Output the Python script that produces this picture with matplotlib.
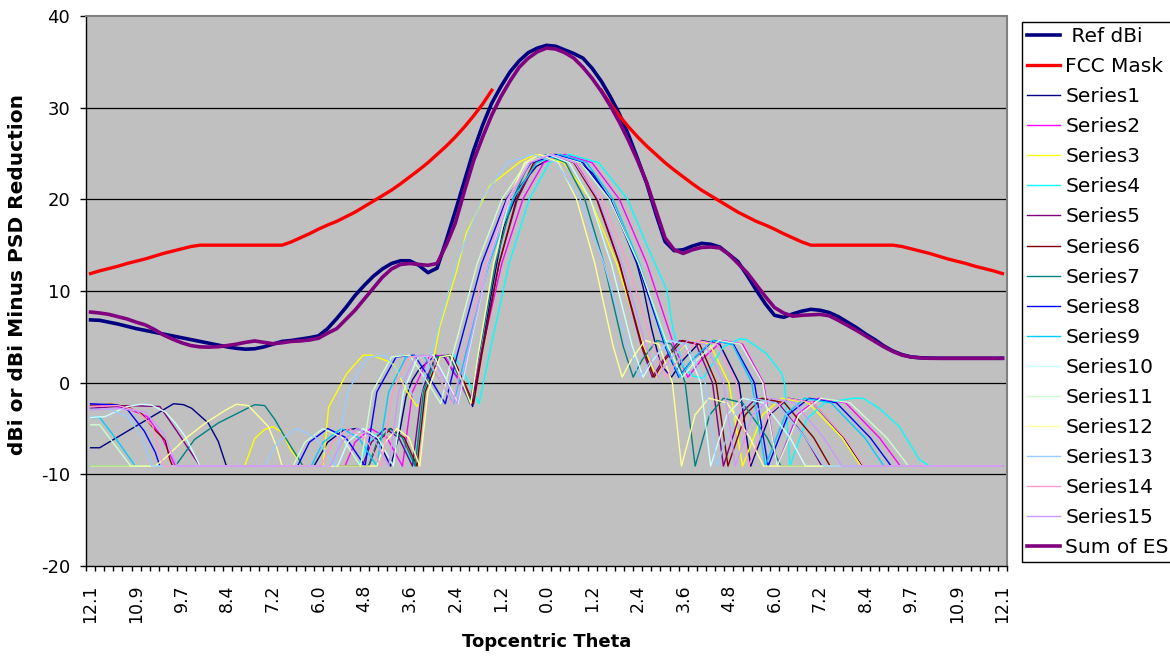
import numpy as np
import matplotlib.pyplot as plt

plt.rcParams['axes.unicode_minus'] = False
nan = float('nan')

# category labels (every 5th category is labelled)
theta_labels = ['12.1', '10.9', '9.7', '8.4', '7.2', '6.0', '4.8', '3.6', '2.4', '1.2', '0.0',
                '1.2', '2.4', '3.6', '4.8', '6.0', '7.2', '8.4', '9.7', '10.9', '12.1']
n_cat = 101

ref_dbi = [6.85, 6.8, 6.6, 6.4, 6.15, 5.9, 5.7, 5.5, 5.3, 5.1,
           4.9, 4.7, 4.5, 4.3, 4.1, 3.9, 3.75, 3.65, 3.7, 3.9,
           4.2, 4.5, 4.6, 4.75, 4.9, 5.1, 5.9, 7.0, 8.2, 9.5,
           10.6, 11.6, 12.4, 13.0, 13.3, 13.3, 12.8, 12.0, 12.5, 15.5,
           18.7, 22.0, 25.3, 28.1, 30.5, 32.3, 33.9, 35.1, 36.0, 36.5,
           36.8, 36.7, 36.3, 35.9, 35.4, 34.3, 32.9, 31.2, 29.3, 27.0,
           24.4, 21.7, 18.4, 15.4, 14.4, 14.5, 14.9, 15.2, 15.1, 14.8,
           14.0, 13.2, 11.7, 10.1, 8.6, 7.35, 7.13, 7.5, 7.8, 8.0,
           7.9, 7.65, 7.2, 6.6, 6.0, 5.3, 4.7, 4.0, 3.45, 3.05,
           2.8, 2.72, 2.68, 2.66, 2.66, 2.66, 2.66, 2.66, 2.66, 2.66, 2.66]

fcc_mask = [11.9, 12.2, 12.45, 12.7, 13.0, 13.25, 13.5, 13.8, 14.1, 14.35,
            14.6, 14.85, 15.0, 15.0, 15.0, 15.0, 15.0, 15.0, 15.0, 15.0,
            15.0, 15.0, 15.35, 15.8, 16.25, 16.75, 17.2, 17.6, 18.1, 18.6,
            19.2, 19.8, 20.4, 21.0, 21.7, 22.45, 23.2, 24.0, 24.9, 25.8,
            26.8, 27.9, 29.1, 30.4, 31.9, nan, nan, nan, nan, nan,
            nan, nan, nan, nan, nan, nan, 31.9, 30.4, 29.1, 27.9,
            26.8, 25.8, 24.9, 24.0, 23.2, 22.45, 21.7, 21.0, 20.4, 19.8,
            19.2, 18.6, 18.1, 17.6, 17.2, 16.75, 16.25, 15.8, 15.35, 15.0,
            15.0, 15.0, 15.0, 15.0, 15.0, 15.0, 15.0, 15.0, 15.0, 14.85,
            14.6, 14.35, 14.1, 13.8, 13.5, 13.25, 13.0, 12.7, 12.45, 12.2, 11.9]

sum_es = [7.7, 7.6, 7.45, 7.2, 6.95, 6.6, 6.3, 5.8, 5.2, 4.75,
          4.35, 4.05, 3.9, 3.88, 3.92, 4.05, 4.2, 4.4, 4.55, 4.4,
          4.25, 4.35, 4.5, 4.55, 4.65, 4.85, 5.4, 5.9, 6.9, 7.9,
          9.1, 10.3, 11.5, 12.4, 12.9, 13.0, 12.9, 12.8, 13.0, 15.0,
          17.4, 20.9, 24.2, 26.8, 29.2, 31.2, 32.9, 34.4, 35.4, 36.1,
          36.5, 36.4, 36.0, 35.4, 34.4, 33.2, 31.8, 30.2, 28.4, 26.4,
          24.2, 21.8, 18.8, 15.8, 14.5, 14.1, 14.5, 14.75, 14.8, 14.7,
          14.0, 13.0, 12.0, 10.7, 9.4, 8.2, 7.6, 7.25, 7.35, 7.4,
          7.45, 7.3, 6.8, 6.25, 5.7, 5.1, 4.5, 3.9, 3.4, 3.0,
          2.8, 2.7, 2.66, 2.66, 2.66, 2.66, 2.66, 2.66, 2.66, 2.66, 2.66]

# earth station series: (category position, value) vertices
series1 = [(0, -7.1), (1, -7.1), (9.1, -2.3), (10.2, -2.4), (11.1, -2.8), (12.9, -4.4), (14, -6.4), (14.9, -9.1),
           (24.5, -9.1), (26, -6.5), (27.7, -5.2), (29.2, -5.0), (31.5, -6.2), (32.9, -9.1), (33.8, -5.9),
           (34.6, -1.5), (35.3, 0.3), (36, 1.4), (37.8, 3.0), (38.8, 2.8), (39.9, 1.0), (41, -0.4), (41.9, -2.6),
           (43, 4.0), (44, 10.0), (45.3, 17.0), (47.1, 21.4), (48.9, 23.6), (51.1, 24.8), (53.3, 24.3),
           (55.1, 22.8), (57, 19.9), (58.4, 16.7), (59.9, 13.0), (60.6, 10.4), (61.5, 6.0), (62.5, 2.0),
           (63.7, 0.6), (65, 2.5), (67, 4.6), (69, 4.2), (71.1, 0.0), (72.4, -9.1), (74.5, -3.5), (76.5, -1.7),
           (79.2, -2.2), (82.6, -6.0), (84.6, -9.1), (100, -9.1)]
series2 = [(0, -2.6), (2, -2.5), (4, -2.8), (6.2, -3.7), (7.8, -5.9), (9.3, -9.1), (27.9, -9.1), (29, -6.5),
           (30.7, -5.0), (32.5, -6.0), (34.2, -9.1), (35.3, -1.0), (37.1, 2.8), (38.8, 3.0), (40.5, 0.0),
           (41.7, -2.3), (42.8, 3.0), (45.1, 13.0), (47.4, 20.0), (49.7, 24.0), (52, 24.9), (55, 24.0),
           (58, 20.0), (61, 13.0), (64, 4.0), (65.5, 0.6), (67, 2.5), (69.3, 4.6), (71.5, 4.2), (73.8, 0.0),
           (75.3, -9.1), (77.5, -3.5), (79.8, -1.7), (82.8, -2.2), (86.5, -6.0), (88.8, -9.1), (100, -9.1)]
series3 = [(0, -9.1), (16.9, -9.1), (18, -6.1), (19.1, -5.1), (20, -4.8), (21, -5.4), (22, -7.4), (23.3, -9.1),
           (25.5, -9.1), (26.1, -2.7), (28.1, 1.0), (29.9, 3.0), (30.8, 3.0), (33.2, 2.1), (34.6, -0.8),
           (35.8, -2.6), (37.3, 1.0), (38.3, 6.1), (40.1, 12.0), (41.2, 16.3), (43.8, 21.5), (47.1, 24.1),
           (48.8, 24.9), (51.9, 24.0), (54.8, 20.0), (57.7, 13.0), (60.6, 4.0), (62.1, 0.6), (63.5, 2.5),
           (65.7, 4.6), (67.9, 4.2), (70, 0.0), (71.5, -9.1), (73.7, -3.5), (75.8, -1.7), (78.7, -2.2),
           (82.4, -6.0), (84.5, -9.1), (100, -9.1)]
series4 = [(0, -9.1), (29.4, -9.1), (30.5, -6.5), (32.2, -5.0), (33.8, -6.0), (35.5, -9.1), (36.6, -1.0),
           (38.2, 2.8), (39.9, 3.0), (41.5, 0.0), (42.6, -2.3), (43.7, 3.0), (45.9, 13.0), (48.1, 20.0),
           (50.3, 24.0), (52.5, 24.9), (55.7, 24.0), (58.9, 20.0), (61, 15.0), (63.2, 10.1), (63.9, 5.7),
           (65, 1.75), (66.1, 0.7), (67.2, 0.5), (69.4, 3.9), (71.2, 4.8), (71.9, 4.7), (74.1, 3.2), (75.8, 1.0),
           (76.1, -0.1), (76.7, -9.1), (78.5, -4.0), (80.5, -2.2), (83.6, -1.7), (84.7, -1.7), (86.5, -2.8),
           (88.7, -4.8), (90.9, -8.4), (92, -9.1), (100, -9.1)]
series5 = [(0, -2.8), (4, -2.5), (7.6, -2.6), (9.4, -5.2), (12, -9.1), (29.8, -9.1), (30.8, -6.5), (32.3, -5.0),
           (33.8, -6.0), (35.3, -9.1), (36.3, -1.0), (37.8, 2.8), (39.3, 3.0), (40.8, 0.0), (41.8, -2.3),
           (42.8, 3.0), (44.8, 13.0), (46.8, 20.0), (48.8, 24.0), (50.8, 24.9), (53.2, 24.0), (55.6, 20.0),
           (58, 13.0), (60.4, 4.0), (61.6, 0.6), (62.8, 2.5), (64.6, 4.6), (66.4, 4.2), (68.2, 0.0), (69.4, -9.1),
           (71.2, -3.5), (73, -1.7), (75.4, -2.2), (78.4, -6.0), (80.2, -9.1), (100, -9.1)]
series6 = [(0, -2.45), (2.3, -2.35), (4.1, -2.65), (5.6, -3.4), (7.1, -5.2), (8.2, -6.3), (8.7, -8.4), (9, -9.1),
           (30.5, -9.1), (31.5, -6.5), (32.9, -5.0), (34.4, -6.0), (35.8, -9.1), (36.7, -1.0), (38.2, 2.8),
           (39.6, 3.0), (41, 0.0), (42, -2.3), (42.9, 3.0), (44.8, 13.0), (46.7, 20.0), (48.6, 24.0), (50.5, 24.9),
           (53, 24.0), (55.5, 20.0), (58, 13.0), (60.5, 4.0), (61.8, 0.6), (63, 2.5), (64.9, 4.6), (66.8, 4.2),
           (68.6, 0.0), (69.9, -9.1), (71.8, -3.5), (73.6, -1.7), (76.1, -2.2), (79.3, -6.0), (81.1, -9.1),
           (100, -9.1)]
series7 = [(0, -9.1), (9.3, -9.1), (11.4, -6.2), (14, -4.4), (16.2, -3.3), (18, -2.4), (19.1, -2.5), (20.2, -4.0),
           (21.3, -5.9), (22.8, -8.3), (23.3, -9.1), (30.5, -9.1), (31.4, -6.5), (32.8, -5.0), (34.2, -6.0),
           (35.6, -9.1), (36.5, -1.0), (37.9, 2.8), (39.3, 3.0), (40.7, 0.0), (41.6, -2.3), (42.6, 3.0),
           (44.4, 13.0), (46.3, 20.0), (48.1, 24.0), (50, 24.9), (52.1, 24.0), (54.2, 20.0), (56.3, 13.0),
           (58.4, 4.0), (59.5, 0.6), (60.5, 2.5), (62.1, 4.6), (63.7, 4.2), (65.2, 0.0), (66.3, -9.1),
           (67.9, -3.5), (69.4, -1.7), (71.5, -2.2), (74.2, -6.0), (75.7, -9.1), (100, -9.1)]
series8 = [(0, -2.3), (3, -2.45), (4.1, -3.0), (5.9, -5.3), (7.1, -7.6), (7.6, -9.1), (22.7, -9.1), (24, -6.5),
           (26, -5.0), (28, -6.0), (30.1, -9.1), (31.4, -1.0), (33.5, 2.8), (35.5, 3.0), (37.5, 0.0), (38.9, -2.3),
           (40.2, 3.0), (42.9, 13.0), (45.6, 20.0), (48.3, 24.0), (51, 24.9), (54, 24.0), (57, 20.0), (60, 13.0),
           (63, 4.0), (64.5, 0.6), (66, 2.5), (68.3, 4.6), (70.5, 4.2), (72.8, 0.0), (74.3, -9.1), (76.5, -3.5),
           (78.8, -1.7), (81.8, -2.2), (85.5, -6.0), (87.8, -9.1), (100, -9.1)]
series9 = [(0, -3.8), (1, -3.8), (2.7, -6.0), (4.9, -9.1), (24.2, -9.1), (25.5, -6.5), (27.5, -5.0), (29.4, -6.0),
           (31.4, -9.1), (32.7, -1.0), (34.6, 2.8), (36.5, 3.0), (38.5, 0.0), (39.8, -2.3), (41.1, 3.0),
           (43.7, 13.0), (46.3, 20.0), (48.9, 24.0), (51.5, 24.9), (54.4, 24.0), (57.3, 20.0), (60.2, 13.0),
           (63.1, 4.0), (64.6, 0.6), (66, 2.5), (68.2, 4.6), (70.4, 4.2), (72.5, 0.0), (74, -9.1), (76.2, -3.5),
           (78.3, -1.7), (81.2, -2.2), (84.9, -6.0), (87, -9.1), (100, -9.1)]
series10 = [(0, -3.8), (1.6, -3.7), (4, -2.6), (5.6, -2.35), (6.7, -2.45), (8.2, -3.2), (9.3, -4.4), (10.4, -5.9),
            (12, -9.1), (27.1, -9.1), (28.2, -6.5), (29.9, -5.0), (31.5, -6.0), (33.2, -9.1), (34.3, -1.0),
            (35.9, 2.8), (37.6, 3.0), (39.2, 0.0), (40.3, -2.3), (41.4, 3.0), (43.6, 13.0), (45.8, 20.0),
            (48, 24.0), (50.2, 24.9), (52.5, 24.0), (54.8, 20.0), (57.1, 13.0), (59.4, 4.0), (60.6, 0.6),
            (61.7, 2.5), (63.4, 4.6), (65.2, 4.2), (66.9, 0.0), (68, -9.1), (69.8, -3.5), (71.5, -1.7),
            (73.8, -2.2), (76.7, -6.0), (78.4, -9.1), (100, -9.1)]
series11 = [(0, -4.6), (1, -4.6), (4.4, -9.1), (22.2, -9.1), (23.5, -6.5), (25.5, -5.0), (27.6, -6.0), (29.6, -9.1),
            (30.9, -1.0), (33, 2.8), (35, 3.0), (37, 0.0), (38.4, -2.3), (39.7, 3.0), (42.4, 13.0), (45.1, 20.0),
            (47.8, 24.0), (50.5, 24.9), (53.7, 24.0), (56.9, 20.0), (60.1, 13.0), (63.3, 4.0), (64.9, 0.6),
            (66.5, 2.5), (68.9, 4.6), (71.3, 4.2), (73.7, 0.0), (75.3, -9.1), (77.7, -3.5), (80.1, -1.7),
            (83.3, -2.2), (87.3, -6.0), (89.7, -9.1), (100, -9.1)]
series12 = [(0, -9.1), (7.1, -9.1), (8.2, -8.2), (10.4, -6.1), (12.6, -4.4), (14.8, -3.0), (16, -2.35), (17.3, -2.5),
            (19.5, -4.8), (20.4, -7.0), (21, -9.1), (31.4, -9.1), (32.3, -6.5), (33.6, -5.0), (34.9, -6.0),
            (36.1, -9.1), (37, -1.0), (38.3, 2.8), (39.5, 3.0), (40.8, 0.0), (41.7, -2.3), (42.5, 3.0),
            (44.2, 13.0), (45.9, 20.0), (47.6, 24.0), (49.3, 24.9), (51.3, 24.0), (53.3, 20.0), (55.3, 13.0),
            (57.3, 4.0), (58.3, 0.6), (59.3, 2.5), (60.8, 4.6), (62.3, 4.2), (63.8, 0.0), (64.8, -9.1),
            (66.3, -3.5), (67.8, -1.7), (69.8, -2.2), (72.3, -6.0), (73.8, -9.1), (100, -9.1)]
series13 = [(0, -2.9), (2, -2.9), (4.1, -3.7), (5.6, -5.9), (6.7, -9.1), (19.1, -9.1), (20.5, -6.5), (22.6, -5.0),
            (24.7, -6.0), (26.8, -9.1), (28.2, -1.0), (30.3, 2.8), (32.4, 3.0), (34.5, 0.0), (35.9, -2.3),
            (37.3, 3.0), (40.1, 13.0), (42.9, 20.0), (45.7, 24.0), (48.5, 24.9), (51.1, 24.0), (53.7, 20.0),
            (56.3, 13.0), (58.9, 4.0), (60.2, 0.6), (61.5, 2.5), (63.5, 4.6), (65.4, 4.2), (67.4, 0.0),
            (68.7, -9.1), (70.6, -3.5), (72.6, -1.7), (75.2, -2.2), (78.4, -6.0), (80.4, -9.1), (100, -9.1)]
series14 = [(0, -2.6), (3, -2.5), (5, -3.0), (6.8, -4.7), (8, -9.1), (25.3, -9.1), (26.5, -6.5), (28.3, -5.0),
            (30.1, -6.0), (31.9, -9.1), (33.1, -1.0), (34.9, 2.8), (36.7, 3.0), (38.5, 0.0), (39.7, -2.3),
            (40.9, 3.0), (43.3, 13.0), (45.7, 20.0), (48.1, 24.0), (50.5, 24.9), (53.3, 24.0), (56.1, 20.0),
            (58.9, 13.0), (61.7, 4.0), (63.1, 0.6), (64.5, 2.5), (66.6, 4.6), (68.7, 4.2), (70.8, 0.0),
            (72.2, -9.1), (74.3, -3.5), (76.4, -1.7), (79.2, -2.2), (82.7, -6.0), (84.8, -9.1), (100, -9.1)]
series15 = [(0, -3.0), (3, -2.8), (6, -3.2), (8, -5.5), (9.5, -9.1), (26.3, -9.1), (27.5, -6.5), (29.2, -5.0),
            (31, -6.0), (32.7, -9.1), (33.8, -1.0), (35.6, 2.8), (37.3, 3.0), (39, 0.0), (40.2, -2.3), (41.3, 3.0),
            (43.6, 13.0), (45.9, 20.0), (48.2, 24.0), (50.5, 24.9), (53.1, 24.0), (55.7, 20.0), (58.3, 13.0),
            (60.9, 4.0), (62.2, 0.6), (63.5, 2.5), (65.5, 4.6), (67.4, 4.2), (69.4, 0.0), (70.7, -9.1),
            (72.6, -3.5), (74.6, -1.7), (77.2, -2.2), (80.4, -6.0), (82.4, -9.1), (100, -9.1)]

es_series = [series1, series2, series3, series4, series5, series6, series7, series8,
             series9, series10, series11, series12, series13, series14, series15]
es_colors = ['#000080', '#FF00FF', '#FFFF00', '#00FFFF', '#800080', '#800000', '#008080', '#0000FF',
             '#00CCFF', '#CCFFFF', '#CCFFCC', '#FFFF99', '#99CCFF', '#FF99CC', '#CC99FF']

fig = plt.figure(figsize=(11.7, 6.56), dpi=100)
ax = fig.add_axes([86 / 1170, 1 - 566 / 656, 921 / 1170, 550 / 656])
ax.set_facecolor('#C0C0C0')

x = np.arange(n_cat)
ax.plot(x, ref_dbi, color='#000080', lw=2.6, label=' Ref dBi', zorder=3)
ax.plot(x, fcc_mask, color='#FF0000', lw=2.4, label='FCC Mask', zorder=3)
for k, pts in enumerate(es_series):
    xs, ys = zip(*pts)
    ax.plot(xs, ys, color=es_colors[k], lw=1.0, label='Series%d' % (k + 1), zorder=3)
ax.plot(x, sum_es, color='#800080', lw=2.6, label='Sum of ES', zorder=3)

# gridlines
for g in [-10, 0, 10, 20, 30]:
    ax.axhline(g, color='black', lw=0.9, zorder=1)

ax.set_xlim(-0.5, n_cat - 0.5)
ax.set_ylim(-20, 40)
ax.set_yticks(np.arange(-20, 41, 10))
ax.tick_params(axis='y', length=4.3, width=1, pad=7, labelsize=13)
ax.set_xticks(np.arange(0, n_cat, 5))
ax.set_xticklabels(theta_labels, rotation=90, fontsize=12.5)
ax.tick_params(axis='x', which='major', length=0, pad=13.5)
ax.set_xticks(np.arange(-0.5, n_cat, 1), minor=True)
ax.tick_params(axis='x', which='minor', length=3.6, width=1)

for s in ['left', 'bottom']:
    ax.spines[s].set_color('black')
    ax.spines[s].set_linewidth(1)
for s in ['top', 'right']:
    ax.spines[s].set_color('#808080')
    ax.spines[s].set_linewidth(1.5)

ax.set_ylabel('dBi or dBi Minus PSD Reduction', fontsize=14.5, fontweight='bold')
ax.yaxis.set_label_coords(-0.064, 0.53)
ax.set_xlabel('Topcentric Theta', fontsize=13, fontweight='bold')
ax.xaxis.set_label_coords(0.5, -0.121)

leg = ax.legend(loc='upper left', bbox_to_anchor=(1022 / 1170, 1 - 22 / 656), bbox_transform=fig.transFigure,
                fancybox=False, edgecolor='black', framealpha=1, fontsize=14.5, handlelength=1.65,
                handletextpad=0.25, labelspacing=0.55, borderpad=0.25, borderaxespad=0)
leg.get_frame().set_linewidth(1.0)

fig.savefig('out.png', dpi=100)
